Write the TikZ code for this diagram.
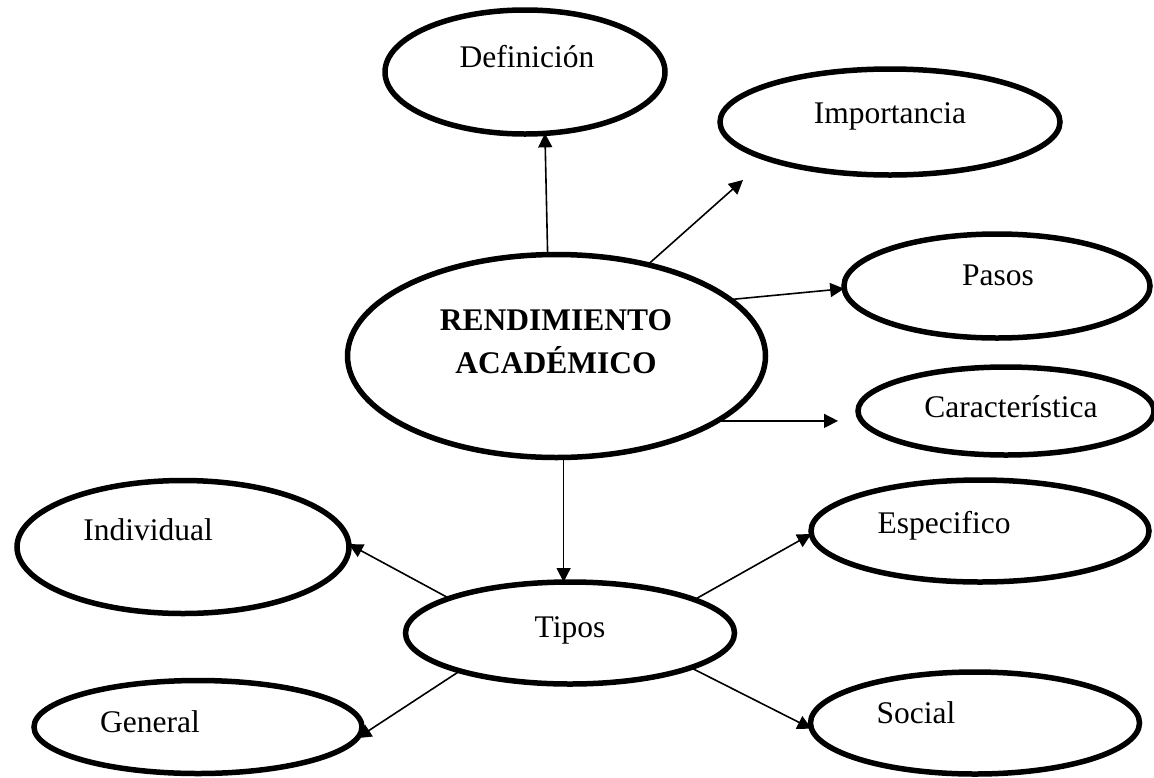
\documentclass[tikz,border=0pt]{standalone}
\usepackage{fontspec}
\setmainfont{Liberation Serif}
\usetikzlibrary{shapes.geometric,arrows.meta}
\tikzset{
  ell/.style={ellipse, draw=black, line width=5.5pt, inner sep=0pt, outer sep=0pt, fill=none},
  lbl/.style={anchor=base, inner sep=0pt, font=\fontsize{31.5}{37}\selectfont},
  blbl/.style={lbl, font=\fontsize{31.5}{37}\selectfont\bfseries},
  arr/.style={line width=1.6pt, -{Triangle[length=14pt,width=14pt]}}
}
\begin{document}
\begin{tikzpicture}[x=1pt,y=-1pt]
\useasboundingbox (0,0) rectangle (1154,777);
% ellipses
\node[ell, minimum width=280pt, minimum height=124pt] (def) at (525,72) {};
\node[ell, minimum width=340pt, minimum height=106pt] (imp) at (890,122) {};
\node[ell, minimum width=306pt, minimum height=104pt] (pas) at (997,286) {};
\node[ell, minimum width=296pt, minimum height=88pt] (car) at (1006,411) {};
\node[ell, minimum width=418pt, minimum height=203pt] (main) at (556.5,356) {};
\node[ell, minimum width=338pt, minimum height=102pt] (esp) at (980,531) {};
\node[ell, minimum width=332pt, minimum height=133pt] (ind) at (183,547) {};
\node[ell, minimum width=329pt, minimum height=102pt] (tip) at (570,633) {};
\node[ell, minimum width=328pt, minimum height=93pt] (gen) at (198,727) {};
\node[ell, minimum width=329pt, minimum height=102pt] (soc) at (975,723) {};
% labels
\node[lbl] (deft) at (527,67) {Definición};
\node[lbl] (impt) at (890,123) {Importancia};
\node[lbl] (past) at (998,285) {Pasos};
\node[lbl] (cart) at (1011,417) {Característica};
\node[blbl] (maint1) at (556,330) {RENDIMIENTO};
\node[blbl] (maint2) at (556,373) {ACADÉMICO};
\node[lbl] (espt) at (944,533) {Especifico};
\node[lbl] (indt) at (148,540) {Individual};
\node[lbl] (tipt) at (570,637) {Tipos};
\node[lbl] (gent) at (150,732) {General};
\node[lbl] (soct) at (916,723) {Social};
% connectors
\coordinate (impend) at (743,180);
\draw[arr] (main.95) -- (def.-72);
\draw[arr] (main.45) -- (impend);
\draw[arr] (main.18) -- (pas.181.5);
\draw[arr, shorten >=20pt] (main.-22) -- (main.-22 -| car.west);
\draw[arr] (main.-86) -- (main.-86 |- tip.north);
\draw[arr] (tip.164) -- (ind.1);
\draw[arr] (tip.199) -- (gen.-4);
\draw[arr] (tip.15) -- (esp.181);
\draw[arr] (tip.-16) -- (soc.182);
\end{tikzpicture}
\end{document}
